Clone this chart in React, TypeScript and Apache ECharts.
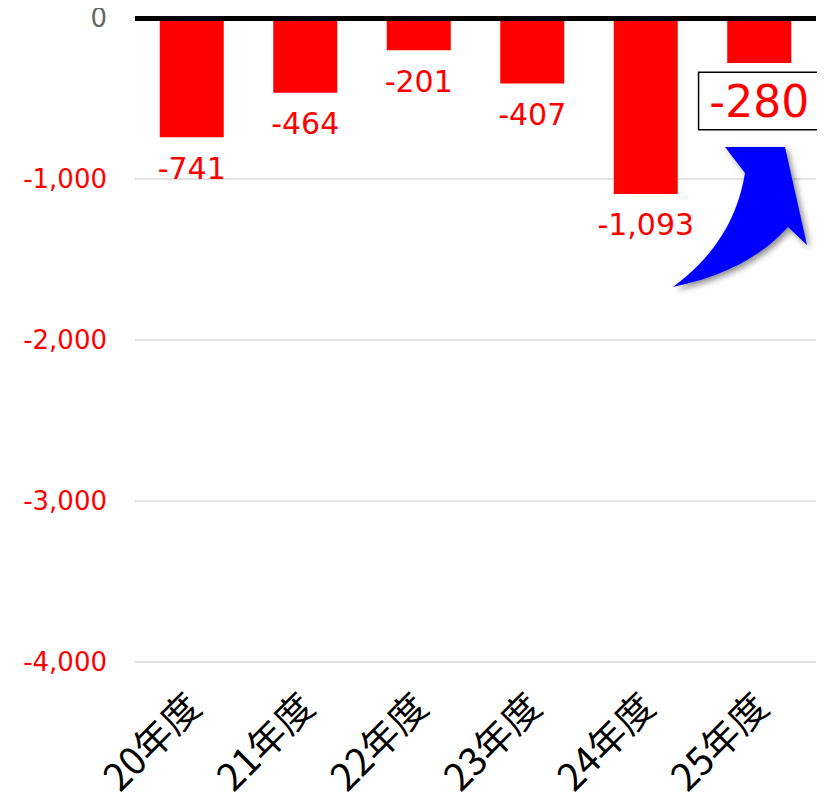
import React, { useEffect, useRef } from "react";
import * as echarts from "echarts";

const categories = ["20年度", "21年度", "22年度", "23年度", "24年度", "25年度"];
const values = [-741, -464, -201, -407, -1093, -280];
const highlightIndex = 5;
const yTicks = { min: -4000, max: 0, interval: 1000 };

const ARROW_D =
  "M 673 287 C 712 258, 737 222, 745 173 L 725 147 L 785 147 L 807 245 L 788 227 C 760 258, 722 277, 673 287 Z";

let registered = false;
function registerArrow() {
  if (registered) return;
  echarts.graphic.registerShape("curvedArrow", echarts.graphic.extendPath(ARROW_D as any, {}) as any);
  registered = true;
}

export default function App() {
  const ref = useRef<HTMLDivElement>(null);
  useEffect(() => {
    if (!ref.current) return;
    registerArrow();
    const chart = echarts.init(ref.current, undefined, { renderer: "svg" });
    const fmt = (v: number) => v.toLocaleString("en-US");
    chart.setOption({
      animation: false,
      grid: { left: 135, right: 9, top: 18, bottom: 141 },
      xAxis: {
        type: "category",
        data: categories,
        position: "bottom",
        axisLine: { show: false },
        axisTick: { show: false },
        axisLabel: {
          rotate: 45,
          fontSize: 38,
          color: "#000",
          margin: 36,
          fontFamily: "Noto Sans CJK JP",
          interval: 0,
        },
      },
      yAxis: {
        type: "value",
        min: yTicks.min,
        max: yTicks.max,
        interval: yTicks.interval,
        axisLine: { show: false },
        axisTick: { show: false },
        splitLine: { lineStyle: { color: "#d9d9d9", width: 1.5 } },
        axisLabel: {
          fontSize: 26,
          margin: 28,
          fontFamily: "DejaVu Sans",
          formatter: (v: number) => fmt(v),
          color: (v: any) => (Number(v) === 0 ? "#666666" : "#ff0000"),
        },
      },
      series: [
        {
          type: "bar",
          barWidth: 64,
          itemStyle: { color: "#ff0000" },
          data: values.map((v, i) =>
            i === highlightIndex
              ? {
                  value: v,
                  label: {
                    fontSize: 44,
                    distance: 10,
                    borderColor: "#000",
                    borderWidth: 1.5,
                    backgroundColor: "#fff",
                    padding: [6, 10, 6, 10],
                  },
                }
              : v
          ),
          label: {
            show: true,
            position: "bottom",
            distance: 16,
            fontSize: 30,
            color: "#ff0000",
            fontFamily: "DejaVu Sans",
            formatter: (p: any) => fmt(p.value),
          },
          markLine: {
            silent: true,
            symbol: ["none", "none"],
            label: { show: false },
            lineStyle: { color: "#000", width: 5, type: "solid" },
            data: [{ yAxis: 0 }],
          },
        },
      ],
      graphic: [
        {
          type: "curvedArrow",
          x: 0,
          y: 0,
          z: 100,
          style: {
            fill: "#0000ff",
            shadowBlur: 6,
            shadowOffsetX: 3,
            shadowOffsetY: 3,
            shadowColor: "rgba(0,0,0,0.45)",
          },
        },
      ],
    });
    return () => chart.dispose();
  }, []);
  return <div ref={ref} style={{ width: 825, height: 803, margin: -8 }} />;
}
